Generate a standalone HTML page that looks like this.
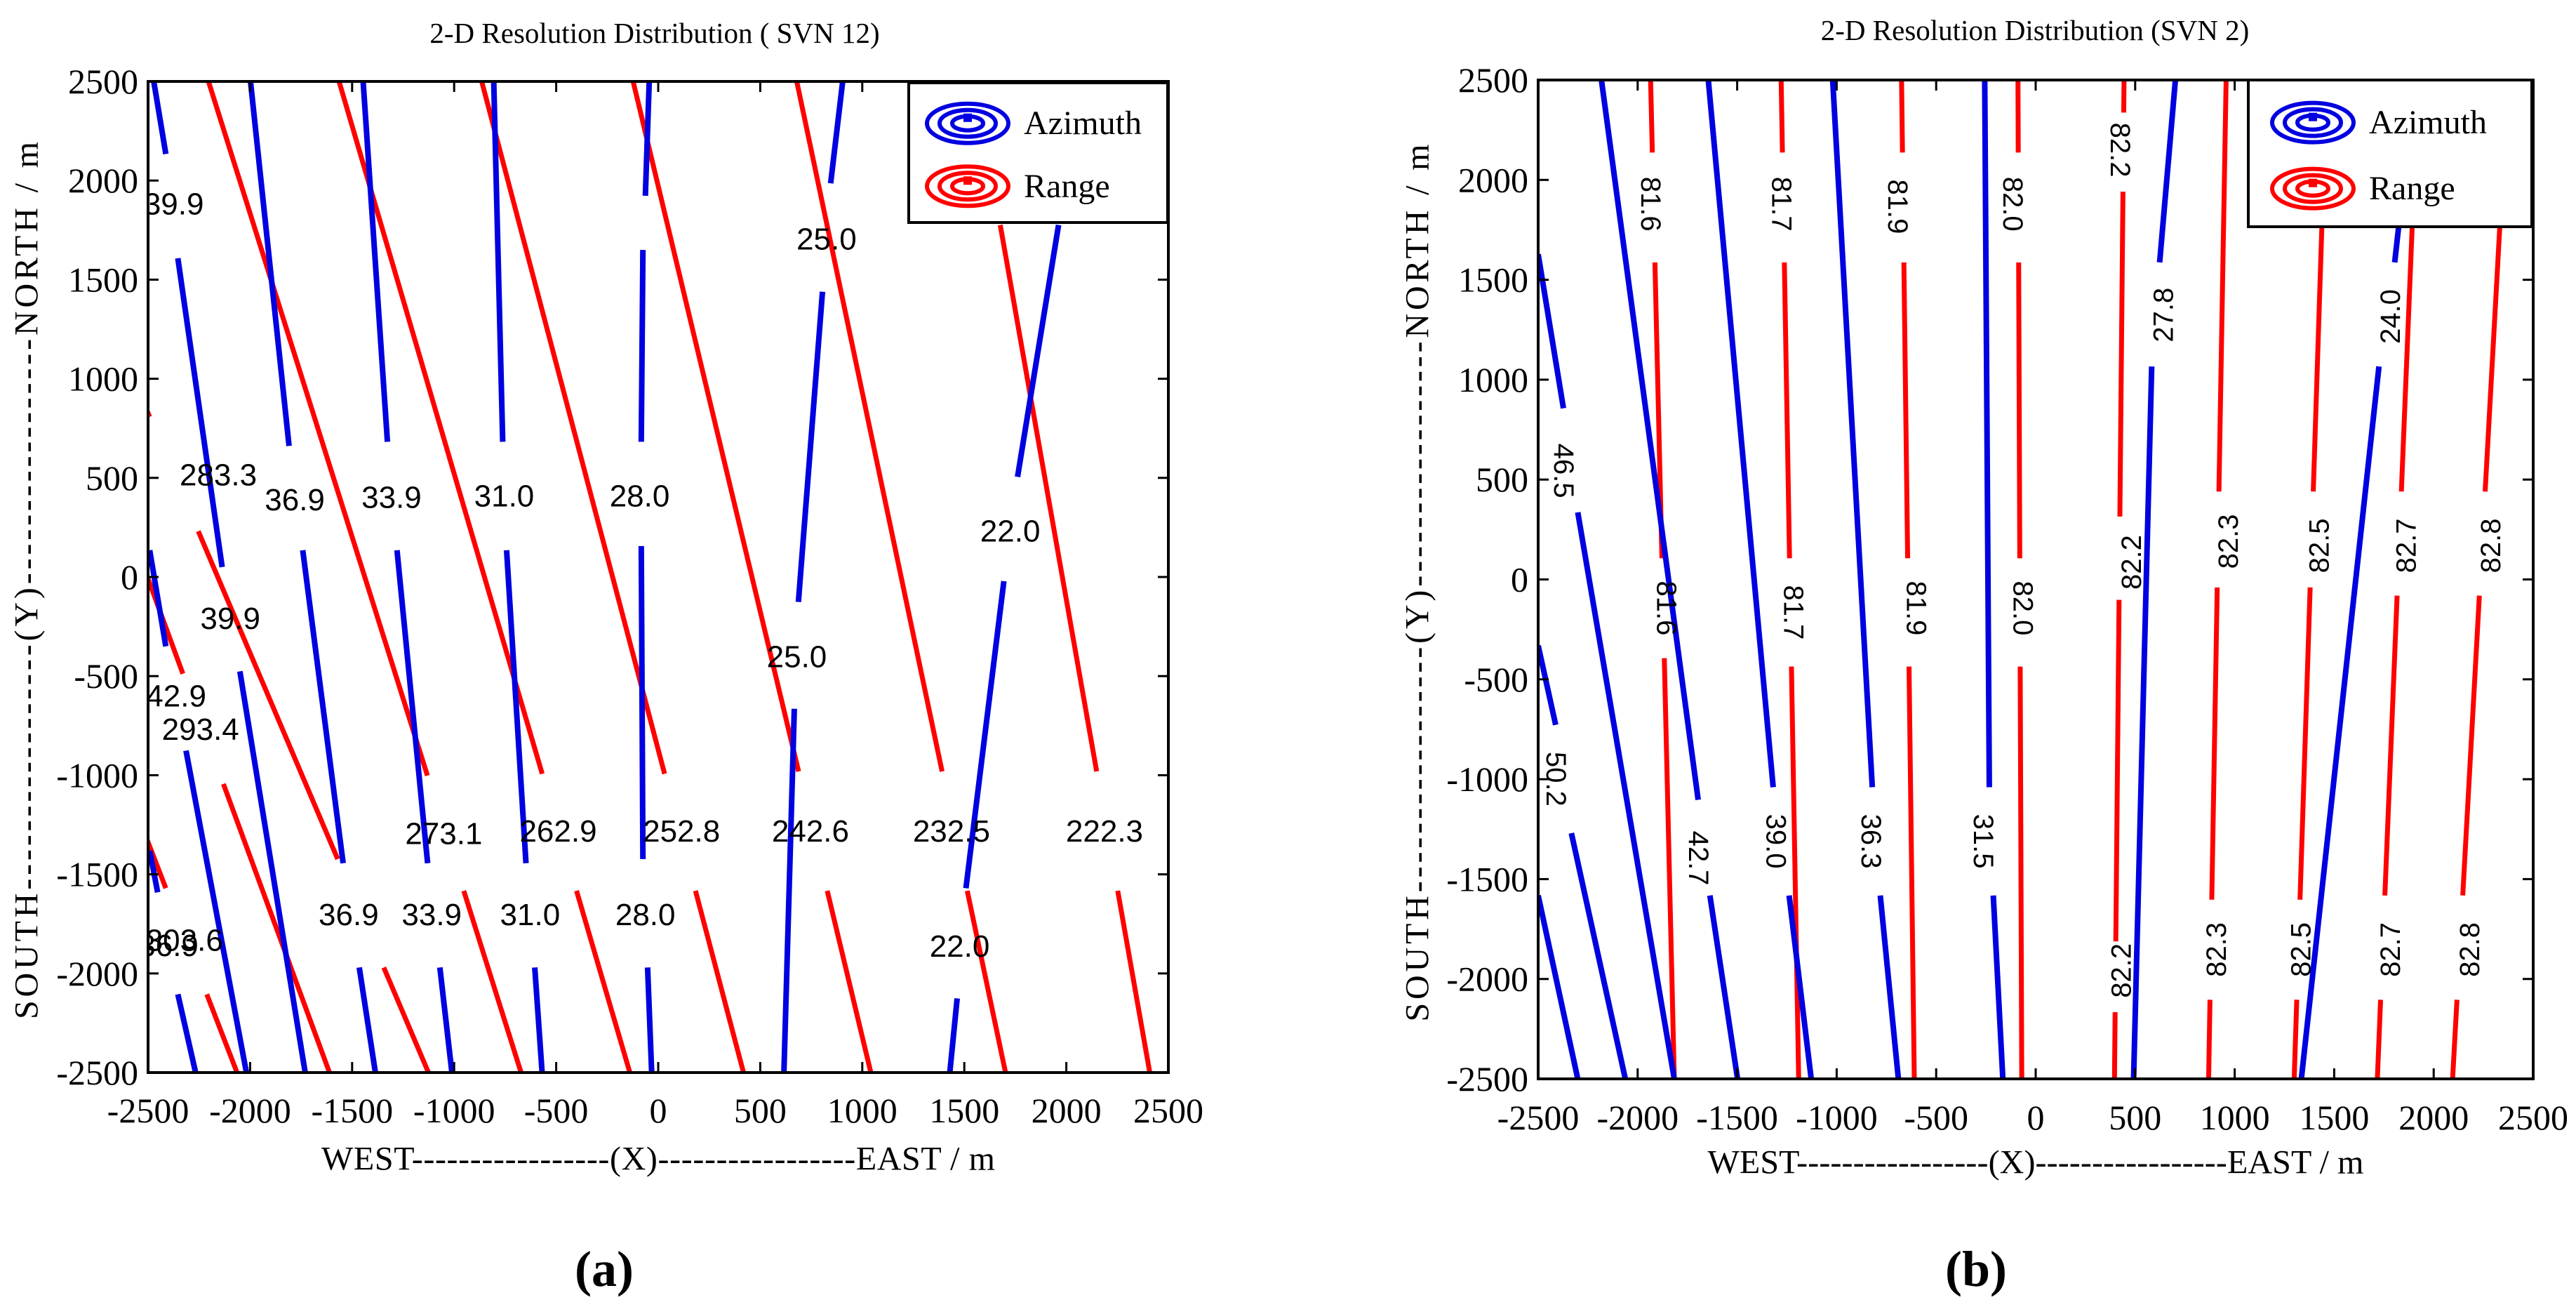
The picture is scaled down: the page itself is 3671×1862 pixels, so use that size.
<!DOCTYPE html>
<html><head><meta charset="utf-8"><style>
html,body{margin:0;padding:0;background:#fff;}
svg{display:block;}
text{font-family:"Liberation Sans",sans-serif;}
</style></head><body>
<svg id="fig" width="3671" height="1862" viewBox="0 0 3671 1862" xmlns="http://www.w3.org/2000/svg">
<rect x="0" y="0" width="3671" height="1862" fill="#fff"/>
<g id="panelA"></g>
<g id="panelB"></g>
<text x="861" y="1832" font-size="72" font-weight="bold" style="font-family:'Liberation Serif',serif" text-anchor="middle">(<tspan>a</tspan>)</text>
<text x="2816" y="1832" font-size="72" font-weight="bold" style="font-family:'Liberation Serif',serif" text-anchor="middle">(<tspan>b</tspan>)</text>
</svg>
<script>
// ---------- data: panel A (SVN 12) ----------
const ticksA = [-2500,-2000,-1500,-1000,-500,0,500,1000,1500,2000,2500];
const rangeTopA = [-3940,-3396,-3191,-2204,-1564,-865,-123,679,1552];
const rangeBotA = [-2064,-1611,-1126,-672,-139,418,1042,1702,2409];
const rangeVisA = [
 [[2500,-1570],[-2105,-2500]],
 [[2500,-488],[-1044,-2500]],
 [[2500,808],[231,-1423],[-1970,-2500]],
 [[2500,-1002],[-1583,-2500]],
 [[2500,-993],[-1583,-2500]],
 [[2500,-993],[-1583,-2500]],
 [[2500,-981],[-1583,-2500]],
 [[2500,-981],[-1583,-2500]],
 [[1776,-981],[-1583,-2500]]
];
const azSegA = [
 [-2472,2500,-2413,2134],[-2354,1608,-2137,50],[-2050,-476,-1730,-2500],
 [-2492,135,-2413,-350],[-2314,-876,-2018,-2500],
 [-2492,-1381,-2453,-1591],[-2354,-2105,-2267,-2500],
 [-1998,2500,-1809,661],[-1742,135,-1544,-1444],[-1465,-1970,-1386,-2500],
 [-1446,2500,-1327,682],[-1280,135,-1130,-1444],[-1070,-1970,-1011,-2500],
 [-806,2500,-762,682],[-743,135,-648,-1444],[-605,-1970,-569,-2500],
 [-44,2500,-63,1923],[-75,1650,-83,682],[-83,156,-75,-1423],[-52,-1970,-32,-2500],
 [904,2500,845,1986],[805,1439,687,-126],[667,-665,616,-2500],
 [1962,1776,1761,505],[1694,-21,1508,-1570],[1465,-2126,1429,-2500]
];
const labTextA = ["39.9","283.3","36.9","33.9","31.0","28.0","25.0","22.0","39.9","25.0","42.9","293.4","273.1","262.9","252.8","242.6","232.5","222.3","36.9","33.9","31.0","28.0","22.0","303.6","36.9"];
const labXA = [-2374,-2156,-1781,-1307,-755,-91,825,1725,-2097,679,-2362,-2243,-1051,-490,114,746,1437,2187,-1517,-1110,-628,-63,1477,-2322,-2400];
const labYA = [1881,513,387,400,408,408,1704,231,-211,-404,-602,-770,-1296,-1284,-1284,-1284,-1284,-1284,-1705,-1705,-1705,-1705,-1865,-1835,-1860];

// ---------- data: panel B (SVN 2) ----------
const ticksB = [-2500,-2000,-1500,-1000,-500,0,500,1000,1500,2000,2500];
const rangeTopB = [-1935,-1279,-674,-89,444,957,1462,1922,2373];
const rangeBotB = [-1816,-1191,-610,-70,396,869,1299,1717,2095];
const rangeVisB = [
 [[2500,2137],[1587,106],[-394,-2500]],
 [[2500,2137],[1587,106],[-436,-2500]],
 [[2500,2137],[1587,106],[-436,-2500]],
 [[2500,2137],[1587,106],[-436,-2500]],
 [[2500,2337],[1941,315],[-102,-1812],[-2166,-2500]],
 [[2500,440],[-40,-1603],[-2104,-2500]],
 [[1774,440],[-40,-1603],[-2104,-2500]],
 [[1774,440],[-81,-1582],[-2104,-2500]],
 [[1774,440],[-81,-1582],[-2104,-2500]]
];
const azSegB = [
 [-2500,1628,-2373,857],[-2301,336,-1816,-2500],
 [-2500,-331,-2412,-728],[-2333,-1270,-2062,-2500],
 [-2500,-1582,-2301,-2500],
 [-2182,2500,-1696,-1103],[-1637,-1582,-1498,-2500],
 [-1645,2500,-1319,-1040],[-1239,-1582,-1128,-2500],
 [-1020,2500,-821,-1040],[-781,-1582,-690,-2500],
 [-256,2500,-233,-1040],[-213,-1582,-165,-2500],
 [702,2500,623,1587],[583,1066,492,-2500],
 [1824,1766,1804,1587],[1725,1066,1335,-2500]
];
const labTextB = ["81.6","81.7","81.9","82.0","82.2","27.8","24.0","46.5","82.2","82.3","82.5","82.7","82.8","81.6","81.7","81.9","82.0","50.2","42.7","39.0","36.3","31.5","82.2","82.3","82.5","82.7","82.8"];
const labXB = [-1935,-1279,-694,-117,424,643,1784,-2373,483,969,1426,1864,2289,-1856,-1219,-602,-65,-2412,-1696,-1307,-829,-264,432,909,1335,1784,2182];
const labYB = [1879,1879,1866,1879,2150,1324,1316,544,86,190,169,169,169,-144,-165,-144,-144,-999,-1395,-1311,-1311,-1311,-1958,-1853,-1853,-1853,-1853];
const labRotB = [90,90,90,90,90,-90,-90,90,-90,-90,-90,-90,-90,90,90,90,90,90,90,90,90,90,-90,-90,-90,-90,-90];

// ---------- drawing ----------
const NS="http://www.w3.org/2000/svg";
function mk(tag,attrs,parent){const e=document.createElementNS(NS,tag);for(const k in attrs)e.setAttribute(k,attrs[k]);if(parent)parent.appendChild(e);return e;}

function drawPanel(g,cfg,rTop,rBot,rVis,az,lt,lx,ly,lrot){
  const L=cfg.left,R=cfg.right,T=cfg.top,B=cfg.bottom;
  const sx=v=>L+(v+2500)/5000*(R-L);
  const sy=v=>T+(2500-v)/5000*(B-T);
  const clipId=cfg.id+"clip";
  const defs=mk("defs",{},g);
  const cp=mk("clipPath",{id:clipId},defs);
  mk("rect",{x:L,y:T,width:R-L,height:B-T},cp);
  const plot=mk("g",{"clip-path":"url(#"+clipId+")"},g);
  
  
  for(let i=0;i<rTop.length;i++){
    const xa=y=>rBot[i]+(rTop[i]-rBot[i])*(y+2500)/5000;
    for(const iv of rVis[i]){
      const ln=mk("line",{x1:sx(xa(iv[0])),y1:sy(iv[0]),x2:sx(xa(iv[1])),y2:sy(iv[1]),stroke:"#ff0000","stroke-width":7},plot);
      
      
    }
  }
  for(const s of az){
    const ln=mk("line",{x1:sx(s[0]),y1:sy(s[1]),x2:sx(s[2]),y2:sy(s[3]),stroke:"#0000e0","stroke-width":8},plot);
    
    
  }
  for(let i=0;i<lt.length;i++){
    const x=sx(lx[i]),y=sy(ly[i]);
    const r=lrot?lrot[i]:0;
    const t=mk("text",{x:x,y:y,"font-size":cfg.labSize,"text-anchor":"middle","dominant-baseline":"central",fill:"#000",transform:"rotate("+r+" "+x+" "+y+")"},plot);
    t.textContent=lt[i];
    
    
  }
  const box=mk("rect",{x:L,y:T,width:R-L,height:B-T,fill:"none",stroke:"#000","stroke-width":4},g);
  
  
  for(const v of cfg.ticks){
    const x=sx(v),y=sy(v);
    mk("line",{x1:x,y1:B,x2:x,y2:B-15,stroke:"#000","stroke-width":3},g);
    mk("line",{x1:x,y1:T,x2:x,y2:T+15,stroke:"#000","stroke-width":3},g);
    mk("line",{x1:L,y1:y,x2:L+15,y2:y,stroke:"#000","stroke-width":3},g);
    mk("line",{x1:R,y1:y,x2:R-15,y2:y,stroke:"#000","stroke-width":3},g);
    const tx=mk("text",{x:x,y:cfg.xTickY,"font-size":50,"text-anchor":"middle","dominant-baseline":"central",style:"font-family:'Liberation Serif',serif"},g);
    tx.textContent=String(v);
    
    
    const ty=mk("text",{x:L-14,y:y,"font-size":50,"text-anchor":"end","dominant-baseline":"central",style:"font-family:'Liberation Serif',serif"},g);
    ty.textContent=String(v);
    
    
  }
  const ti=mk("text",{x:cfg.titleX,y:cfg.titleY,"font-size":41,"text-anchor":"middle","dominant-baseline":"central",style:"font-family:'Liberation Serif',serif"},g);
  ti.textContent=cfg.title;
  
  
  const xl=mk("text",{x:(L+R)/2,y:cfg.xLabY,"font-size":48,"text-anchor":"middle","dominant-baseline":"central",textLength:cfg.xLabLen,style:"font-family:'Liberation Serif',serif"},g);
  xl.textContent="WEST-----------------(X)-----------------EAST / m";
  
  
  const yc=(T+B)/2+5;
  const yl=mk("text",{x:cfg.yLabX,y:yc,"font-size":48,"text-anchor":"middle","dominant-baseline":"central",textLength:1250,transform:"rotate(-90 "+cfg.yLabX+" "+yc+")",style:"font-family:'Liberation Serif',serif"},g);
  yl.textContent="SOUTH-----------------(Y)-----------------NORTH / m";
  
  
  const lg=mk("g",{},g);
  
  
  mk("rect",{x:cfg.legX,y:cfg.legY,width:cfg.legW,height:cfg.legH,fill:"#fff",stroke:"#000","stroke-width":4},lg);
  const items=[["Azimuth","#0000e0"],["Range","#ff0000"]];
  items.forEach((it,k)=>{
    const cx=cfg.legX+cfg.iconDX, cy=cfg.legY+cfg.legH*(k===0?0.29:0.74);
    const ic=mk("g",{},lg);
    
    
    [[58,28],[40,19],[22,10]].forEach(r=>mk("ellipse",{cx:cx,cy:cy,rx:r[0],ry:r[1],fill:"none",stroke:it[1],"stroke-width":6},ic));
    mk("rect",{x:cx-6,y:cy-14,width:12,height:12,fill:it[1]},ic);
    const lt2=mk("text",{x:cx+80,y:cy,"font-size":48,"dominant-baseline":"central",style:"font-family:'Liberation Serif',serif"},lg);
    lt2.textContent=it[0];
    
    
  });
}

drawPanel(document.getElementById("panelA"),
 {id:"a",left:211,right:1665,top:116,bottom:1528,ticks:ticksA,labSize:44,xTickY:1582,
  title:"2-D Resolution Distribution ( SVN 12)",titleX:933,titleY:47,xLabY:1651,xLabLen:960,yLabX:38,
  legX:1295,legY:118,legW:369,legH:199,iconDX:84},
 rangeTopA,rangeBotA,rangeVisA,azSegA,labTextA,labXA,labYA,null);
drawPanel(document.getElementById("panelB"),
 {id:"b",left:2192,right:3610,top:114,bottom:1537,ticks:ticksB,labSize:40,xTickY:1592,
  title:"2-D Resolution Distribution (SVN 2)",titleX:2900,titleY:43,xLabY:1656,xLabLen:935,yLabX:2020,
  legX:3204,legY:114,legW:404,legH:209,iconDX:92},
 rangeTopB,rangeBotB,rangeVisB,azSegB,labTextB,labXB,labYB,labRotB);
</script>
</body></html>
